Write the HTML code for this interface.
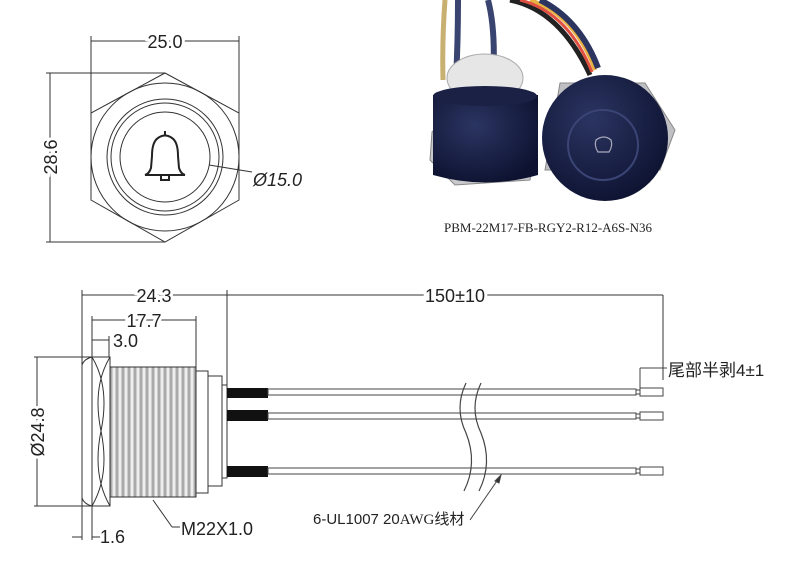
<!DOCTYPE html>
<html><head><meta charset="utf-8"><style>
html,body{margin:0;padding:0;background:#fff;}
svg{display:block;}
text{font-family:"Liberation Sans","Noto Sans CJK SC",sans-serif;fill:#222;}
.d{paint-order:stroke;stroke:#fff;stroke-width:6px;}
</style></head><body>
<svg width="800" height="565" viewBox="0 0 800 565" xmlns="http://www.w3.org/2000/svg">
<defs>
<linearGradient id="th" x1="0" x2="1" y1="0" y2="0">
<stop offset="0" stop-color="#fff"/><stop offset="0.5" stop-color="#999"/><stop offset="1" stop-color="#fff"/>
</linearGradient>
<pattern id="thr" width="6" height="10" patternUnits="userSpaceOnUse">
<rect width="6" height="10" fill="url(#th)"/>
</pattern>
<radialGradient id="nv" cx="0.4" cy="0.35" r="0.7"><stop offset="0" stop-color="#2b3562"/><stop offset="1" stop-color="#0d1230"/></radialGradient>
</defs>
<g stroke="#333" fill="none" stroke-width="1">
<line x1="91" y1="41" x2="239" y2="41"/>
<line x1="91" y1="36" x2="91" y2="200"/>
<line x1="239" y1="36" x2="239" y2="200"/>
<polygon points="165,73 239,113 239,200 165,242 91,200 91,113"/>
<line x1="46" y1="73" x2="165" y2="73"/>
<line x1="46" y1="242" x2="165" y2="242"/>
<line x1="50" y1="73" x2="50" y2="242"/>
<circle cx="165" cy="157" r="74"/>
<circle cx="165" cy="157" r="58"/>
<circle cx="165" cy="157" r="54"/>
<circle cx="165" cy="157" r="45"/>
<line x1="209" y1="165" x2="252" y2="172"/>
<path d="M165,131 v5 M158,138 q7,-5 14,0 q6,4 6,18 l1,12 q2,6 6,7 h-40 q4,-1 6,-7 l1,-12 q0,-14 6,-18z M161,175 v5 h8 v-5" stroke-width="2" stroke="#222"/>
<line x1="82" y1="295" x2="227" y2="295"/>
<line x1="227" y1="295" x2="663" y2="295"/>
<line x1="82" y1="290" x2="82" y2="540"/>
<line x1="227" y1="290" x2="227" y2="385"/>
<line x1="663" y1="295" x2="663" y2="380"/>
<line x1="92" y1="320" x2="196" y2="320"/>
<line x1="92" y1="316" x2="92" y2="540"/>
<line x1="196" y1="316" x2="196" y2="367"/>
<line x1="92" y1="340" x2="109" y2="340"/>
<line x1="109" y1="336" x2="109" y2="357"/>
<line x1="34" y1="357" x2="92" y2="357"/>
<line x1="34" y1="506" x2="92" y2="506"/>
<line x1="37" y1="357" x2="37" y2="506"/>
<line x1="72" y1="537" x2="82" y2="537"/>
<line x1="92" y1="537" x2="100" y2="537"/>
<path d="M82,365 q2,-6 10,-8 v149 q-8,-2 -10,-8z"/>
<rect x="92" y="357" width="18" height="149"/>
<path d="M92,357 q18,30 9,74 q-9,44 9,75 M110,357 q-18,30 -9,74 q9,44 -9,75"/>
<rect x="110" y="367" width="86" height="130" fill="url(#thr)" stroke="#333"/>
<rect x="196" y="371" width="12" height="122"/>
<rect x="208" y="376" width="14" height="110"/>
<rect x="222" y="385" width="5" height="93"/>
<line x1="153" y1="500" x2="172" y2="527"/>
<line x1="172" y1="527" x2="180" y2="527"/>
</g>
<g fill="#111">
<rect x="227" y="388" width="41" height="10"/>
<rect x="227" y="410" width="41" height="11"/>
<rect x="227" y="466" width="41" height="11"/>
</g>
<g stroke="#444" fill="none" stroke-width="1">
<rect x="268" y="389" width="368" height="6"/>
<rect x="268" y="413" width="368" height="6"/>
<rect x="268" y="468" width="368" height="6"/>
<rect x="636" y="390" width="4" height="4"/><rect x="640" y="388" width="23" height="8"/>
<rect x="636" y="414" width="4" height="4"/><rect x="640" y="412" width="23" height="8"/>
<rect x="636" y="469" width="4" height="4"/><rect x="640" y="467" width="23" height="8"/>
<line x1="640" y1="368" x2="640" y2="388"/>
<line x1="640" y1="368" x2="667" y2="368"/>
<path d="M466,383 q-12,25 0,50 q12,30 -2,58" stroke-width="1.2"/>
<path d="M481,383 q-12,25 0,50 q12,30 -2,58" stroke-width="1.2"/>
<line x1="470" y1="520" x2="499" y2="478"/>
<polygon points="501,475 495,481 499,483" fill="#333"/>
</g>
<text class="d" x="165" y="48" font-size="18" text-anchor="middle">25.0</text>
<text class="d" transform="translate(57,157) rotate(-90)" font-size="18" text-anchor="middle">28.6</text>
<text x="253" y="186" font-size="18" font-style="italic">Ø15.0</text>
<text class="d" x="154" y="302" font-size="18" text-anchor="middle">24.3</text>
<text class="d" x="144" y="327" font-size="18" text-anchor="middle">17.7</text>
<text x="113" y="347" font-size="18">3.0</text>
<text class="d" transform="translate(44,432) rotate(-90)" font-size="18" text-anchor="middle">Ø24.8</text>
<text x="100" y="543" font-size="18">1.6</text>
<text x="181" y="535" font-size="18">M22X1.0</text>
<text class="d" x="455" y="302" font-size="18" text-anchor="middle">150±10</text>
<text x="668" y="376" font-size="17">尾部半剥4±1</text>
<text x="313" y="524" font-size="15">6-UL1007 20<tspan font-family="Liberation Serif,serif">AWG</tspan>线材</text>
<path d="M445,0 q-3,40 -2,80" stroke="#c8b070" stroke-width="5" fill="none"/>
<path d="M458,0 q0,40 -2,80" stroke="#3a4470" stroke-width="6" fill="none"/>
<path d="M488,0 q8,30 5,80" stroke="#3a4470" stroke-width="6" fill="none"/>
<path d="M510,0 q50,10 80,75" stroke="#222" stroke-width="5" fill="none"/>
<path d="M530,0 q45,15 65,70" stroke="#e8b040" stroke-width="4" fill="none"/>
<path d="M520,0 q48,12 72,72" stroke="#e05040" stroke-width="3" fill="none"/>
<path d="M540,0 q40,20 58,68" stroke="#2b3560" stroke-width="6" fill="none"/>
<polygon points="432,132 445,120 525,120 537,132 530,180 455,185 430,160" fill="#c9c9cc" stroke="#888"/>
<path d="M433,95 h105 v80 q-52,15 -105,0z" fill="url(#nv)"/>
<ellipse cx="485" cy="78" rx="38" ry="24" fill="#e6e6e6" stroke="#aaa"/>
<ellipse cx="485" cy="96" rx="52" ry="10" fill="#1a2145"/>
<polygon points="560,83 645,83 675,130 660,170 545,170" fill="#c0c0c4" stroke="#888"/>
<circle cx="605" cy="138" r="63" fill="url(#nv)"/>
<circle cx="603" cy="145" r="35" fill="none" stroke="#3a4575" stroke-width="2"/>
<path d="M596,140 q8,-6 15,0 q2,6 -2,12 h-11 q-4,-6 -2,-12z" fill="none" stroke="#aab" stroke-width="1.2"/>
<text x="548" y="232" font-size="13" text-anchor="middle" style="font-family:'Liberation Serif',serif">PBM-22M17-FB-RGY2-R12-A6S-N36</text>
</svg>
</body></html>
